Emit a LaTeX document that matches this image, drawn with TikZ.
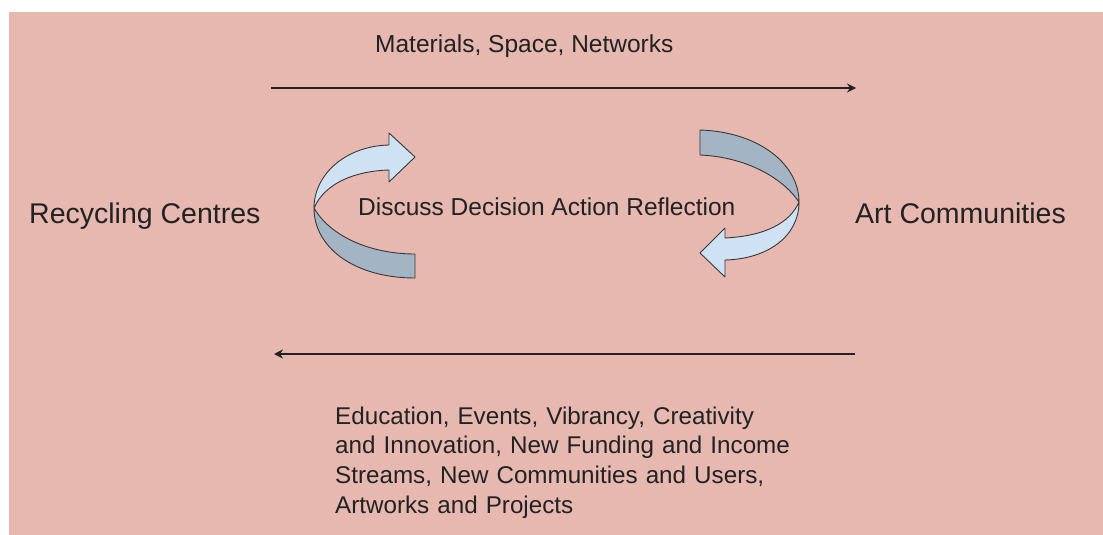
\documentclass[tikz,border=0pt]{standalone}
\usepackage{fontspec}
\setmainfont{Liberation Sans}
\usepackage{tikz}
\usetikzlibrary{arrows}
\usetikzlibrary{arrows.meta}
\usetikzlibrary{positioning}
\usepackage{xcolor}
\definecolor{berry}{HTML}{E6B8AF}
\definecolor{ribbonlight}{HTML}{CFE2F3}
\definecolor{ribbondark}{HTML}{A3B4C5}
\definecolor{ink}{HTML}{222222}
\tikzset{x=1pt,y=-1pt,
      party/.style={anchor=base west,inner sep=0pt,text=ink,
      font=\fontsize{28.5}{34}\selectfont},
      caption/.style={anchor=base west,inner sep=0pt,text=ink,
      font=\fontsize{24.5}{29.7}\selectfont},
      flow/.style={draw=ink,line width=1.4pt,-{Stealth[length=9pt,width=9pt]}},
      ribbon/.style={draw=ink!90,line width=0.9pt,line join=round}}

\begin{document}
\begin{tikzpicture}
          \useasboundingbox (0,0) rectangle (1103,535);
          \fill[berry] (9,12) rectangle (1103,535);
          \node[party] (recycle) at (29,223) {Recycling Centres};
          \node[party] (art) at (855,223) {Art Communities};
          \node[caption] (give) at (375,53) {Materials, Space, Networks};
          \node[caption] (cycle) at (358,215) {Discuss Decision Action Reflection};
          \node[caption,text width=480pt,align=left,
            font=\fontsize{24.2}{29.7}\selectfont] (gain) at (335,424)
            {Education, Events, Vibrancy, Creativity\\
             and Innovation, New Funding and Income\\
             Streams, New Communities and Users,\\
             Artworks and Projects};
          \coordinate (ta) at (271,88);
          \coordinate (tb) at (856,88);
          \coordinate (ba) at (855,354);
          \coordinate (bb) at (274,354);
          \draw[flow] (ta) -- (tb);
          \draw[flow] (ba) -- (bb);
          % left ribbon
          \coordinate (lp) at (314,208);
          \draw[ribbon,fill=ribbondark] (lp) .. controls (330,236) and (370,254) .. (415,254)
            -- (415,278) .. controls (355,278) and (314,248) .. (lp) -- cycle;
          \draw[ribbon,fill=ribbonlight] (lp) .. controls (314,175) and (345,146) .. (389,145)
            -- (389,133) -- (415,157) -- (389,182) -- (389,170)
            .. controls (355,171) and (325,183) .. (lp) -- cycle;
          % right ribbon
          \coordinate (rp) at (799,202);
          \draw[ribbon,fill=ribbondark] (700,130) .. controls (760,132) and (799,165) .. (rp)
            .. controls (782,177) and (745,157) .. (700,155) -- cycle;
          \draw[ribbon,fill=ribbonlight] (rp) .. controls (799,236) and (768,259) .. (725,260)
            -- (725,277) -- (700,253) -- (725,228) -- (725,238)
            .. controls (765,236) and (790,223) .. (rp) -- cycle;
       \end{tikzpicture}
\end{document}
